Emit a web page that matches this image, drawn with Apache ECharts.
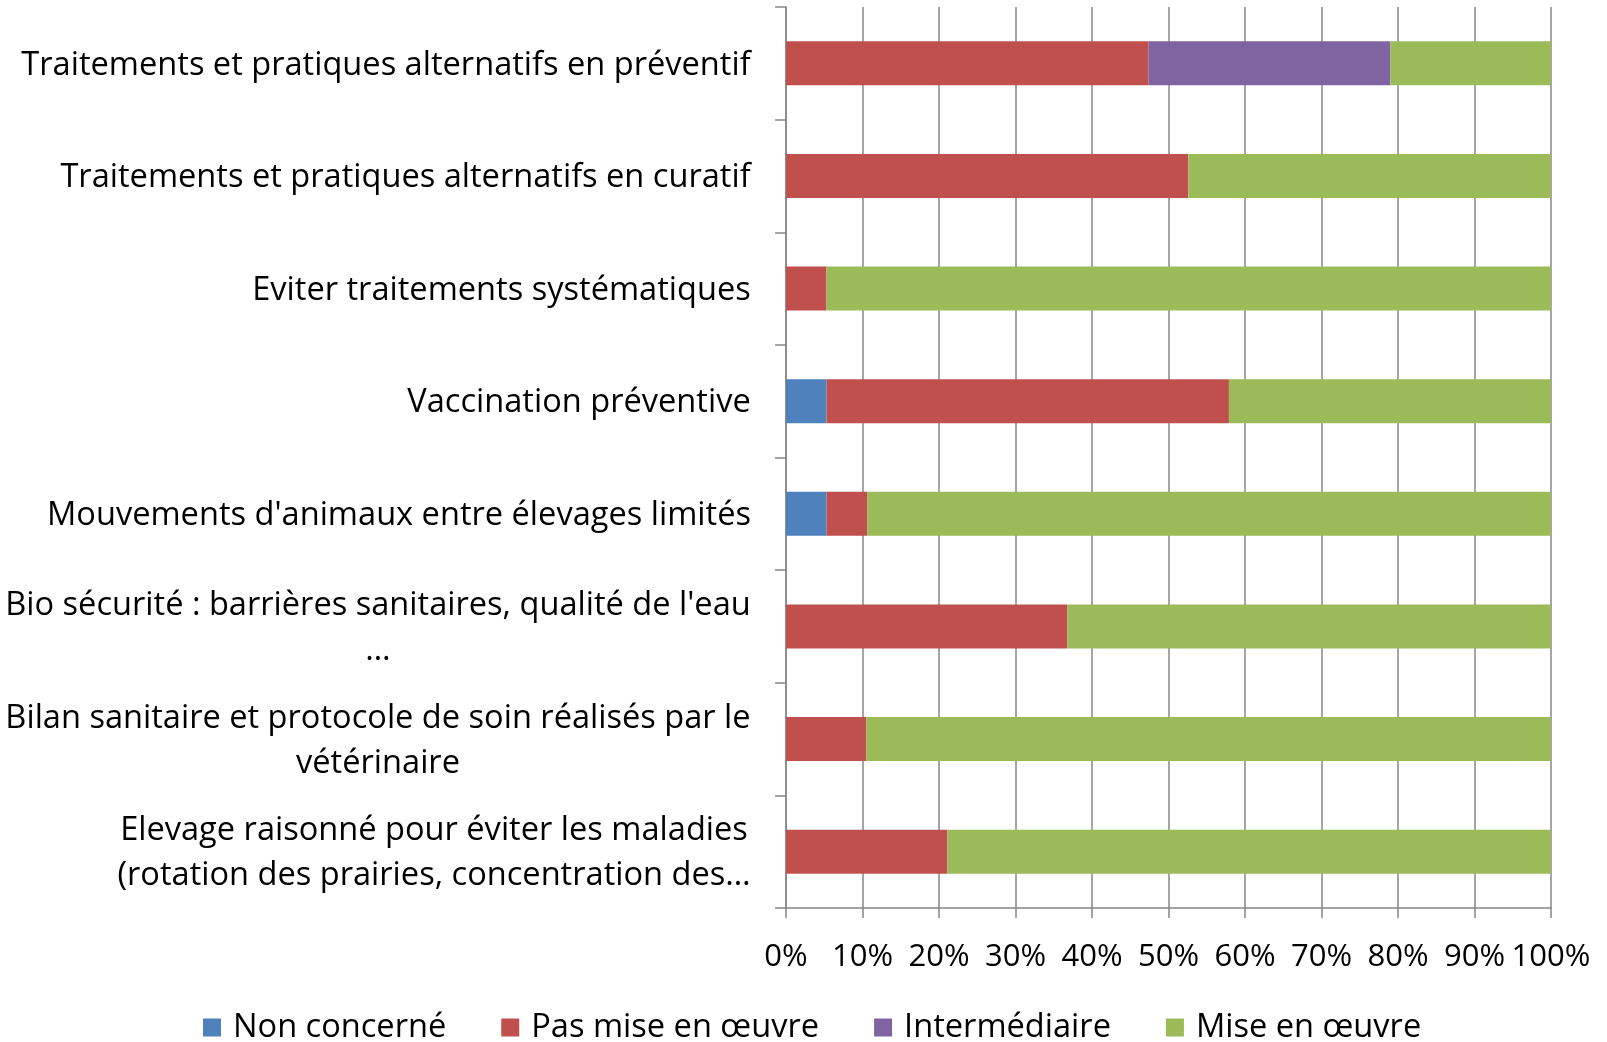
<!DOCTYPE html>
<html>
<head>
<meta charset="utf-8">
<script src="https://cdn.jsdelivr.net/npm/echarts@6/dist/echarts.min.js"></script>
<style>
  html, body { margin: 0; padding: 0; background: #fff; }
  #chart { width: 1607px; height: 1042px; }
</style>
</head>
<body>
<div id="chart"></div>
<script>
// categories, top to bottom
const categories = [
  'Traitements et pratiques alternatifs en préventif',
  'Traitements et pratiques alternatifs en curatif',
  'Eviter traitements systématiques',
  'Vaccination préventive',
  "Mouvements d'animaux entre élevages limités",
  "Bio sécurité : barrières sanitaires, qualité de l'eau\n…",
  'Bilan sanitaire et protocole de soin réalisés par le\nvétérinaire',
  'Elevage raisonné pour éviter les maladies\n(rotation des prairies, concentration des…'
]
// parts in %
const nonConcerne = [0, 0, 0, 5.3, 5.3, 0, 0, 0]
const pasMise = [47.4, 52.6, 5.3, 52.6, 5.3, 36.8, 10.5, 21.1]
const intermediaire = [31.6, 0, 0, 0, 0, 0, 0, 0]
const miseEnOeuvre = [21.0, 47.4, 94.7, 42.1, 89.4, 63.2, 89.5, 78.9]
const xTicks = [0, 10, 20, 30, 40, 50, 60, 70, 80, 90, 100]

const FONT = 'Open Sans'
const fontSize = 32.6

// multi-line labels: lines centered within the block, block right aligned
const ctx = document.createElement('canvas').getContext('2d')
ctx.font = fontSize + 'px "' + FONT + '"'
const rich = {}
categories.forEach((c, i) => {
  const w = Math.max(...c.split('\n').map(l => ctx.measureText(l).width))
  rich['c' + i] = { width: Math.ceil(w), align: 'center', fontSize: fontSize, lineHeight: 45, fontFamily: FONT, color: '#000' }
})

const chart = echarts.init(document.getElementById('chart'))
const gridColor = '#878787'

const mkSeries = (name, data, color) => ({
  name: name,
  type: 'bar',
  stack: 'total',
  data: data,
  barWidth: 44,
  itemStyle: { color: color },
  emphasis: { disabled: true }
})

chart.setOption({
  animation: false,
  textStyle: { fontFamily: FONT },
  grid: { left: 786, right: 56, top: 7, bottom: 134, containLabel: false },
  legend: {
    left: 198,
    top: 1006,
    icon: 'rect',
    itemWidth: 18,
    itemHeight: 18,
    itemGap: 55,
    textStyle: { fontSize: 32.6, fontFamily: FONT, color: '#000', padding: [0, 0, 0, 7] },
    data: ['Non concerné', 'Pas mise en œuvre', 'Intermédiaire', 'Mise en œuvre']
  },
  xAxis: {
    type: 'value',
    min: xTicks[0],
    max: xTicks[xTicks.length - 1],
    interval: 10,
    axisLine: { show: true, lineStyle: { color: gridColor, width: 1.5 } },
    axisTick: { show: true, length: 10, lineStyle: { color: gridColor, width: 1.5 } },
    splitLine: { show: true, lineStyle: { color: gridColor, width: 1.5 } },
    axisLabel: { formatter: '{value}%', fontSize: 31, color: '#000', margin: 34, fontFamily: FONT }
  },
  yAxis: {
    type: 'category',
    inverse: true,
    data: categories,
    axisLine: { show: true, lineStyle: { color: gridColor, width: 1.5 } },
    axisTick: { show: true, length: 11, lineStyle: { color: gridColor, width: 1.5 } },
    axisLabel: {
      margin: 35,
      align: 'right',
      padding: [4, 0, 0, 0],
      formatter: (v, i) => v.split('\n').map(l => '{c' + i + '|' + l + '}').join('\n'),
      rich: rich
    }
  },
  series: [
    mkSeries('Non concerné', nonConcerne, '#4F81BD'),
    mkSeries('Pas mise en œuvre', pasMise, '#C0504D'),
    mkSeries('Intermédiaire', intermediaire, '#8064A2'),
    mkSeries('Mise en œuvre', miseEnOeuvre, '#9BBB59')
  ]
})
</script>
</body>
</html>
